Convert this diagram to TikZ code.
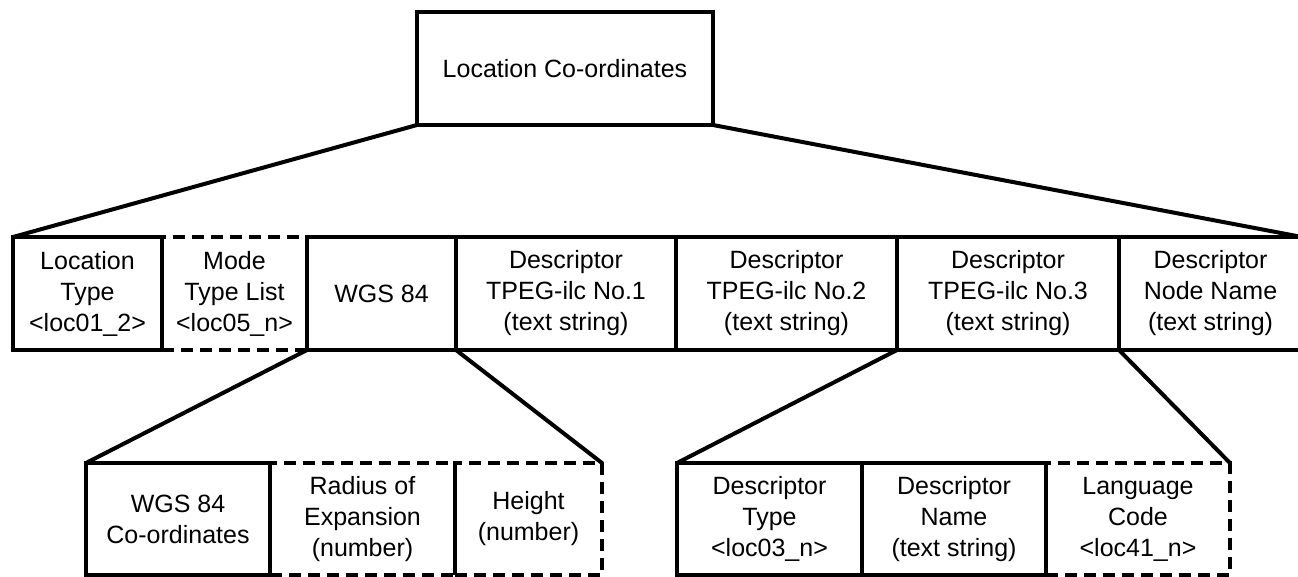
\documentclass[tikz,border=0pt]{standalone}
\usepackage{fontspec}
\setmainfont{Liberation Sans}
\begin{document}
\begin{tikzpicture}[x=1pt,y=-1pt,
  every node/.style={outer sep=0pt,inner sep=0pt,align=center,
    font=\fontsize{25}{31}\selectfont},
  solidbox/.style={draw,line width=4.5pt,line join=miter},
  dashbox/.style={draw,line width=4.5pt,dash pattern=on 12pt off 7pt},
  link/.style={line width=4pt,line cap=round}]
\useasboundingbox (0,0) rectangle (1298,576);

% root
\node[solidbox,minimum width=296pt,minimum height=113pt] (root) at (565,68.5) {Location Co-ordinates};

% middle row: optional (dashed) boxes first, solid ones drawn over them
\node[dashbox,minimum width=145pt,minimum height=113pt] (mode) at (234.5,293.5) {Mode\\Type List\\<loc05\_n>};
\node[solidbox,minimum width=149pt,minimum height=113pt] (loctype) at (87.5,293.5) {Location\\Type\\<loc01\_2>};
\node[solidbox,minimum width=149pt,minimum height=113pt] (wgs) at (381.5,293.5) {WGS 84};
\node[solidbox,minimum width=220pt,minimum height=113pt] (d1) at (566,293.5) {Descriptor\\TPEG-ilc No.1\\(text string)};
\node[solidbox,minimum width=221pt,minimum height=113pt] (d2) at (786.5,293.5) {Descriptor\\TPEG-ilc No.2\\(text string)};
\node[solidbox,minimum width=222pt,minimum height=113pt] (d3) at (1008,293.5) {Descriptor\\TPEG-ilc No.3\\(text string)};
\node[solidbox,minimum width=183pt,minimum height=113pt] (dn) at (1210.5,293.5) {Descriptor\\Node Name\\(text string)};

% WGS 84 breakdown
\node[dashbox,minimum width=185pt,minimum height=112pt] (radius) at (362.5,519) {Radius of\\Expansion\\(number)};
\node[dashbox,minimum width=147pt,minimum height=112pt] (height) at (528.5,519) {Height\\(number)};
\node[solidbox,minimum width=184pt,minimum height=112pt] (coord) at (178,519) {WGS 84\\Co-ordinates};

% descriptor breakdown
\node[dashbox,minimum width=184pt,minimum height=112pt] (lang) at (1138,519) {Language\\Code\\<loc41\_n>};
\node[solidbox,minimum width=185pt,minimum height=112pt] (dtype) at (769.5,519) {Descriptor\\Type\\<loc03\_n>};
\node[solidbox,minimum width=184pt,minimum height=112pt] (dname) at (954,519) {Descriptor\\Name\\(text string)};

% expansion lines
\draw[link] (root.south west) -- (loctype.north west);
\draw[link] (root.south east) -- (dn.north east);
\draw[link] (wgs.south west) -- (coord.north west);
\draw[link] (wgs.south east) -- (height.north east);
\draw[link] (d3.south west) -- (dtype.north west);
\draw[link] (d3.south east) -- (lang.north east);
\end{tikzpicture}
\end{document}
